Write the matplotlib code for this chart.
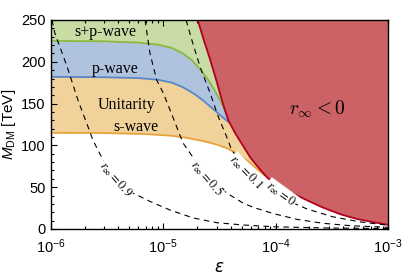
import matplotlib
matplotlib.use("Agg")
import matplotlib.pyplot as plt
from matplotlib.ticker import MultipleLocator, LogLocator, NullFormatter

plt.rcParams['font.family'] = ['Liberation Sans', 'DejaVu Sans']
plt.rcParams['mathtext.fontset'] = 'custom'
plt.rcParams['mathtext.rm'] = 'Liberation Sans'
plt.rcParams['mathtext.it'] = 'Liberation Sans:italic'

# values (epsilon, M_DM in TeV)
eps_red = [2.03e-5, 2.3e-5, 2.6e-5, 3.0e-5, 3.4e-5, 3.8e-5, 4.4e-5, 5.0e-5, 6.0e-5, 7.3e-5,
           8.5e-5, 1.0e-4, 1.4e-4, 2.0e-4, 2.65e-4, 3.8e-4, 5.3e-4, 7.5e-4, 1e-3]
m_red = [250, 226, 204, 176, 150, 130, 114, 102, 85, 71, 61, 54, 43, 33, 25.5, 17.5, 12, 8, 5]

eps_s = [1e-6, 3e-6, 7e-6, 1.2e-5, 1.7e-5, 2.3e-5, 3.0e-5, 3.8e-5, 4.5e-5, 5.3e-5, 6.0e-5, 7.0e-5, 8.0e-5]
m_s = [115, 114.8, 113.5, 111.5, 108.5, 105, 101, 96, 90.5, 84, 78.5, 70.5, 64]

eps_p = [1e-6, 3e-6, 6e-6, 9e-6, 1.2e-5, 1.5e-5, 1.9e-5, 2.3e-5, 2.7e-5, 3.1e-5, 3.5e-5, 3.8e-5]
m_p = [182, 181.5, 180.5, 178.5, 175, 169.5, 161.5, 153, 145, 138, 132, 128]

eps_sp = [1e-6, 3e-6, 6e-6, 9e-6, 1.2e-5, 1.5e-5, 1.8e-5, 2.1e-5, 2.5e-5, 2.9e-5, 3.3e-5, 3.7e-5]
m_sp = [225, 224.5, 223, 220.5, 216.5, 210, 202, 192, 179, 165, 151, 136]

# r_inf contours
eps_09 = [1.027e-6, 1.09e-6, 1.4e-6, 1.75e-6, 2.15e-6, 2.38e-6, 2.92e-6, 3.6e-6, 5.4e-6,
          7.64e-6, 1.15e-5, 1.85e-5, 3.0e-5, 5.14e-5, 1e-4, 3e-4, 1e-3]
m_09 = [250, 234, 194, 154, 122, 106, 82.5, 68, 43, 33, 22.7, 13.2, 7.5, 4.8, 2.6, 1.2, 0.5]

eps_05 = [6.9e-6, 7.64e-6, 8.77e-6, 1.0e-5, 1.22e-5, 1.5e-5, 2.36e-5, 3.68e-5, 5.14e-5,
          6.3e-5, 9.5e-5, 1.55e-4, 2.65e-4, 4.6e-4, 1e-3]
m_05 = [250, 210, 178, 163, 134, 103, 65, 43, 31, 26, 18.5, 11.5, 6.8, 4.0, 2.0]

eps_01 = [1.6e-5, 1.8e-5, 2.13e-5, 2.61e-5, 3.1e-5, 3.68e-5, 4.07e-5, 5.7e-5, 1.1e-4,
          1.9e-4, 3.25e-4, 5.65e-4, 1e-3]
m_01 = [250, 226, 194, 163, 134, 110, 94.5, 68, 38, 24, 14.5, 8.5, 4.5]

band_labels = ["s+p-wave", "p-wave", "Unitarity", "s-wave"]
band_label_pos = [(3.04e-6, 235.5), (3.73e-6, 191), (4.68e-6, 148), (5.74e-6, 122)]

contour_labels = [r"$r_\infty = 0.9$", r"$r_\infty = 0.5$", r"$r_\infty = 0.1$", r"$r_\infty = 0$"]
contour_label_pos = [(3.8e-6, 60), (2.45e-5, 61), (5.5e-5, 68), (1.12e-4, 42)]
contour_label_rot = [-49, -49, -46, -36]

xmin, xmax, ymax = 1e-6, 1e-3, 250

fig = plt.figure(figsize=(4.05, 2.75), dpi=100)
ax = fig.add_axes([0.1252, 0.1673, 0.8328, 0.76])
ax.set_xscale('log')

# filled bands (each one up to the top; red covers what lies past the boundary)
for e, m, fc in [(eps_s, m_s, '#f2d29b'), (eps_p, m_p, '#afc3df'), (eps_sp, m_sp, '#c9dca5')]:
    ax.fill(list(e) + [xmax, xmax, xmin], list(m) + [m[-1], ymax, ymax], color=fc, lw=0, zorder=1)

ax.plot(eps_s, m_s, color='#e9a23b', lw=1.3, zorder=2)
ax.plot(eps_p, m_p, color='#5a87c5', lw=1.3, zorder=2)
ax.plot(eps_sp, m_sp, color='#8cb83e', lw=1.3, zorder=2)

ax.fill(list(eps_red) + [xmax], list(m_red) + [ymax], color='#cc6266', lw=0, zorder=3)
ax.plot(eps_red, m_red, color='#b0001a', lw=1.3, zorder=4)

for e, m in [(eps_09, m_09), (eps_05, m_05), (eps_01, m_01)]:
    ax.plot(e, m, color='black', lw=0.8, dashes=(5, 4), zorder=5)

for t, (x, y) in zip(band_labels, band_label_pos):
    ax.text(x, y, t, family='Liberation Serif', fontsize=11.5, ha='center', va='center', zorder=6)

for t, (x, y), r in zip(contour_labels, contour_label_pos, contour_label_rot):
    ax.text(x, y, t, fontsize=9, math_fontfamily='stix', rotation=r, ha='center', va='center',
            rotation_mode='anchor', zorder=6,
            bbox=dict(boxstyle='square,pad=0.05', fc='white', ec='none'))

ax.text(2.34e-4, 143, r"$r_\infty < 0$", fontsize=14, math_fontfamily='cm',
        ha='center', va='center', zorder=6)

ax.set_xlim(xmin, xmax)
ax.set_ylim(0, ymax)
ax.yaxis.set_major_locator(MultipleLocator(50))
ax.yaxis.set_minor_locator(MultipleLocator(10))
ax.xaxis.set_major_locator(LogLocator(base=10, numticks=10))
ax.xaxis.set_minor_locator(LogLocator(base=10, subs=range(2, 10), numticks=20))
ax.xaxis.set_minor_formatter(NullFormatter())
ax.tick_params(which='both', direction='in', top=True, right=True, labelsize=10.5, width=0.8)
ax.tick_params(which='major', length=4)
ax.tick_params(which='minor', length=2)
ax.tick_params(axis='x', pad=6)
for s in ax.spines.values():
    s.set_linewidth(1.0)
    s.set_zorder(7)

ax.set_xlabel(r"$\epsilon$", fontsize=12, math_fontfamily='dejavusans', labelpad=3)
ax.set_ylabel(r"$M_{\mathrm{DM}}$ [TeV]", fontsize=11, labelpad=2)

fig.savefig('out.png', dpi=100)
